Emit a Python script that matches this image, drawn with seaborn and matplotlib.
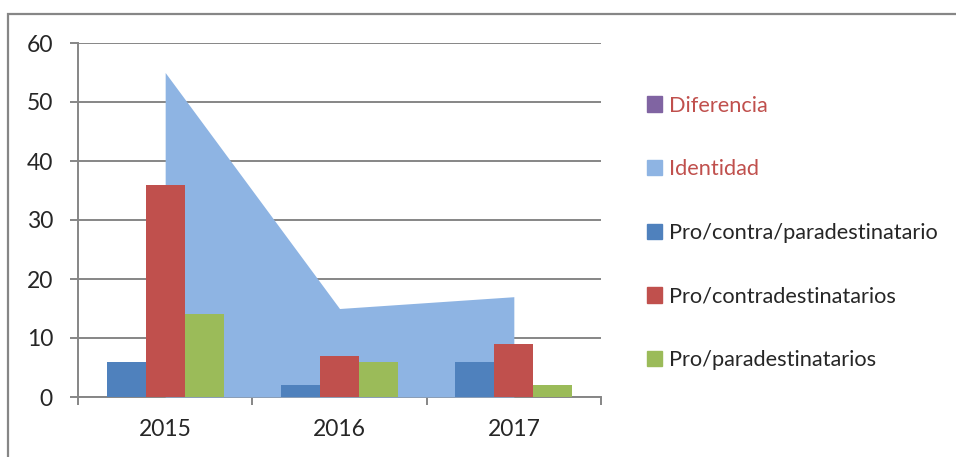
import numpy as np
import pandas as pd
import matplotlib
matplotlib.use("Agg")
import matplotlib.pyplot as plt
import seaborn as sns
from matplotlib.patches import Patch, Rectangle

# datos
years = ["2015", "2016", "2017"]
identidad = [55, 15, 17]
diferencia = [0, 0, 0]
pro_contra_para = [6, 2, 6]
pro_contra = [36, 7, 9]
pro_para = [14, 6, 2]

series_names = ["Pro/contra/paradestinatario", "Pro/contradestinatarios", "Pro/paradestinatarios"]
colors = {"Diferencia": "#8064A2", "Identidad": "#8EB4E3",
          "Pro/contra/paradestinatario": "#4F81BD",
          "Pro/contradestinatarios": "#C0504D",
          "Pro/paradestinatarios": "#9BBB59"}
grid_gray = "#868686"

bars = pd.DataFrame({
    "year": years * 3,
    "serie": [s for s in series_names for _ in years],
    "value": pro_contra_para + pro_contra + pro_para,
})

sns.set_style("white")
plt.rcParams["font.family"] = ["Lato", "DejaVu Sans"]

fig = plt.figure(figsize=(9.56, 4.57), dpi=100)
ax = fig.add_axes([78 / 956, 1 - 397 / 457, 523 / 956, 354 / 457])

# area de Identidad (detras de las barras)
x = np.arange(len(years))
ax.fill_between(x, diferencia, 0, color=colors["Diferencia"], lw=0, zorder=1)
ax.fill_between(x, identidad, 0, color=colors["Identidad"], lw=0, zorder=1)

sns.barplot(data=bars, x="year", y="value", hue="serie", order=years,
            hue_order=series_names, palette=colors, width=0.67,
            saturation=1, ax=ax, legend=False, zorder=2)
for p in ax.patches:
    p.set_linewidth(0)
    p.set_zorder(2)

ax.set_xlim(-0.5, 2.5)
ax.set_ylim(0, 60)
ax.set_yticks(range(0, 61, 10))
ax.set_xlabel("")
ax.set_ylabel("")
ax.grid(axis="y", color=grid_gray, lw=1.4)
ax.set_axisbelow(True)
for s in ["top", "right"]:
    ax.spines[s].set_visible(False)
for s in ["left", "bottom"]:
    ax.spines[s].set_color(grid_gray)
    ax.spines[s].set_linewidth(1.4)
    ax.spines[s].set_zorder(0.6)

ax.tick_params(axis="y", length=6, width=1.4, color=grid_gray, pad=12, labelsize=16.5, left=True)
ax.set_xticks([0, 1, 2])
ax.set_xticklabels(years)
ax.tick_params(axis="x", length=0, pad=16, labelsize=16.5)
ax.set_xticks([-0.5, 0.5, 1.5, 2.5], minor=True)
ax.tick_params(axis="x", which="minor", length=6, width=1.4, color=grid_gray, bottom=True)

handles = [Patch(color=colors[n]) for n in ["Diferencia", "Identidad"] + series_names]
labels = ["Diferencia", "Identidad"] + series_names
leg = fig.legend(handles, labels, loc="upper left", bbox_to_anchor=(638 / 956, 1 - 87 / 457),
                 frameon=False, fontsize=15.7, handlelength=0.7, handleheight=0.7,
                 handletextpad=0.3, labelspacing=2.0, borderaxespad=0)
for t in leg.get_texts()[:2]:
    t.set_color("#C0504D")

fig.add_artist(Rectangle((8 / 956, -0.1), 1.2, 1 - 14 / 457 + 0.1, transform=fig.transFigure,
                         fill=False, edgecolor=grid_gray, lw=1.6))

fig.savefig("out.png", dpi=100)
